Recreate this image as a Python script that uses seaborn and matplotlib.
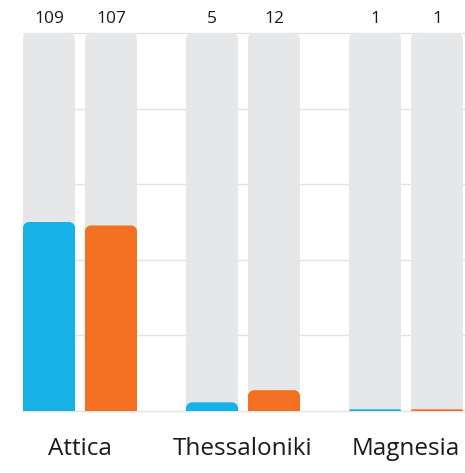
import matplotlib
matplotlib.use("Agg")
import matplotlib.pyplot as plt
from matplotlib.path import Path
from matplotlib.patches import PathPatch
import numpy as np
import pandas as pd
import seaborn as sns

# Chart data
categories = ["Attica", "Thessaloniki", "Magnesia"]
series_names = ["first", "second"]
first_values = [109, 5, 1]
second_values = [107, 12, 1]

BLUE = "#16b1e6"
ORANGE = "#f37022"
TRACK = "#e6e7e8"
GRID = "#e3e3e3"
FONT = ["Open Sans", "DejaVu Sans"]

sns.set_theme(style="white")
plt.rcParams["font.family"] = FONT

df = pd.DataFrame({
    "category": categories * 2,
    "series": [series_names[0]] * 3 + [series_names[1]] * 3,
    "value": first_values + second_values,
})
y_max = 2 * max(first_values + second_values)
df["track"] = y_max

W_PX, H_PX = 465, 473
fig = plt.figure(figsize=(W_PX / 100, H_PX / 100), dpi=100)
ax = fig.add_axes([23 / W_PX, (H_PX - 411) / H_PX, 442 / W_PX, 378 / H_PX])

common = dict(data=df, x="category", hue="series", order=categories,
              hue_order=series_names, width=0.76, gap=0.16, legend=False,
              ax=ax, zorder=2, linewidth=0, saturation=1)
sns.barplot(y="track", palette=[TRACK, TRACK], **common)
sns.barplot(y="value", palette=[BLUE, ORANGE], **common)

ax.set_xlim(-0.3497, 2.362)
ax.set_ylim(0, y_max)

# light horizontal grid behind the bars
for gy in np.linspace(0, y_max, 6):
    ax.axhline(gy, color=GRID, linewidth=1, zorder=0.5, clip_on=False)

for side in ax.spines.values():
    side.set_visible(False)
ax.set_yticks([])
ax.set_xlabel("")
ax.set_ylabel("")
ax.tick_params(axis="x", length=0, pad=19, labelsize=17.5, labelcolor="#1a1a1a")


def round_top(rect, radius_px=6.0):
    """Replace a bar rectangle with one whose top corners are rounded."""
    x0, y0 = rect.get_xy()
    w, h = rect.get_width(), rect.get_height()
    T = ax.transData
    X0, Y0 = T.transform((x0, y0))
    X1, Y1 = T.transform((x0 + w, y0 + h))
    r = min(radius_px, (X1 - X0) / 2, Y1 - Y0)
    k = 0.5523 * r
    pts = [
        (X0, Y0), (X0, Y1 - r),
        (X0, Y1 - r + k), (X0 + r - k, Y1), (X0 + r, Y1),
        (X1 - r, Y1),
        (X1 - r + k, Y1), (X1, Y1 - r + k), (X1, Y1 - r),
        (X1, Y0), (X0, Y0),
    ]
    codes = [Path.MOVETO, Path.LINETO,
             Path.CURVE4, Path.CURVE4, Path.CURVE4,
             Path.LINETO,
             Path.CURVE4, Path.CURVE4, Path.CURVE4,
             Path.LINETO, Path.CLOSEPOLY]
    data_pts = T.inverted().transform(np.array(pts))
    patch = PathPatch(Path(data_pts, codes), facecolor=rect.get_facecolor(),
                      edgecolor="none", zorder=rect.get_zorder(),
                      transform=ax.transData)
    rect.remove()
    ax.add_patch(patch)
    return x0 + w / 2


bars = list(ax.patches)
centers = [round_top(b) for b in bars[:6]]
for b in bars[6:]:
    round_top(b)

# value labels above each track
values_by_bar = first_values + second_values
for cx, val in zip(centers, values_by_bar):
    ax.text(cx, 1.0 + 14 / 378, f"{val}", transform=ax.get_xaxis_transform(),
            ha="center", va="center", fontsize=12.5, color="#1a1a1a",
            clip_on=False)

fig.savefig("out.png", dpi=100)
